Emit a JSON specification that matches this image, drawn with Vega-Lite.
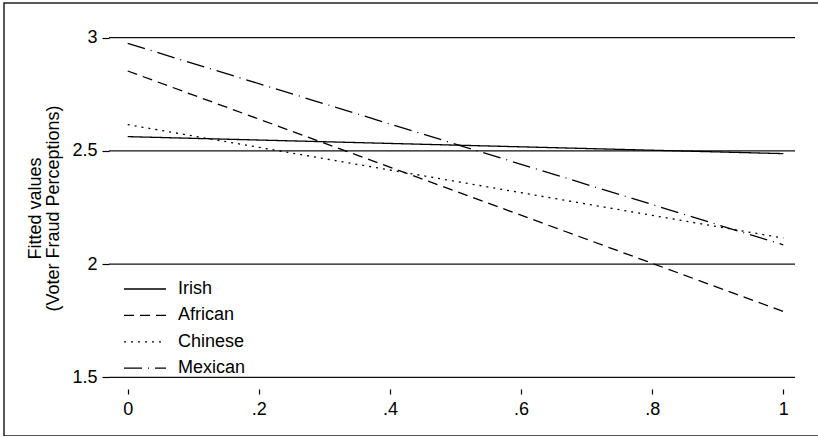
{
  "$schema": "https://vega.github.io/schema/vega-lite/v6.json",
  "width": 815,
  "height": 433,
  "autosize": {"type": "none"},
  "padding": {"left": 4, "top": 3, "right": 0, "bottom": 0},
  "background": "white",
  "config": {
    "font": "Liberation Sans",
    "view": {"stroke": "#222", "strokeWidth": 1.5},
    "axis": {"labelColor": "black", "titleColor": "black", "tickColor": "black", "grid": false, "domain": false}
  },
  "datasets": {
    "fits": [
      {"group": "Irish", "x": 0, "y": 2.563},
      {"group": "Irish", "x": 1, "y": 2.488},
      {"group": "African", "x": 0, "y": 2.853},
      {"group": "African", "x": 1, "y": 1.791},
      {"group": "Chinese", "x": 0, "y": 2.616},
      {"group": "Chinese", "x": 1, "y": 2.115},
      {"group": "Mexican", "x": 0, "y": 2.975},
      {"group": "Mexican", "x": 1, "y": 2.085}
    ],
    "grid": [{"g": 1.5}, {"g": 2}, {"g": 2.5}, {"g": 3}]
  },
  "layer": [
    {
      "data": {"name": "grid"},
      "mark": {"type": "rule", "stroke": "#111", "strokeWidth": 1.2},
      "encoding": {
        "y": {"field": "g", "type": "quantitative", "scale": {"domain": [1.2407, 3.1533], "nice": false, "zero": false},
          "axis": {"orient": "left", "offset": -105, "values": [1.5, 2, 2.5, 3], "format": "~g", "tickSize": 7, "tickWidth": 1.2, "labelFontSize": 18, "labelPadding": 5,
            "title": ["Fitted values", "(Voter Fraud Perceptions)"], "titleFontSize": 18, "titleFontWeight": "normal", "titleLineHeight": 18,
            "titleX": -74, "titleY": 205, "titleBaseline": "middle", "titleAngle": -90, "titleAlign": "center"}},
        "x": {"datum": -0.0285, "type": "quantitative", "scale": {"domain": [-0.18868, 1.05446], "nice": false, "zero": false},
          "axis": {"orient": "bottom", "offset": -47, "values": [0, 0.2, 0.4, 0.6, 0.8, 1], "tickSize": 5, "tickWidth": 1.2, "labelFontSize": 18, "labelPadding": 6,
            "labelExpr": "replace(format(datum.value, '~g'), '0.', '.')", "title": null}},
        "x2": {"datum": 1.0179}
      }
    },
    {
      "mark": {"type": "rule", "stroke": "black", "strokeWidth": 1.5},
      "encoding": {
        "x": {"datum": -0.0285, "type": "quantitative"},
        "y": {"datum": 1.4474, "type": "quantitative"},
        "y2": {"datum": 3.0561}
      }
    },
    {
      "mark": {"type": "rule", "stroke": "black", "strokeWidth": 1.5},
      "encoding": {
        "x": {"datum": -0.0285, "type": "quantitative"},
        "x2": {"datum": 1.0179},
        "y": {"datum": 1.4474, "type": "quantitative"}
      }
    },
    {
      "data": {"name": "fits"},
      "mark": {"type": "line", "stroke": "black", "strokeWidth": 1.3},
      "encoding": {
        "x": {"field": "x", "type": "quantitative"},
        "y": {"field": "y", "type": "quantitative"},
        "strokeDash": {"field": "group", "type": "nominal",
          "scale": {"domain": ["Irish", "African", "Chinese", "Mexican"], "range": [[1, 0], [10, 6], [2, 5], [18, 6, 1, 6]]},
          "legend": {"orient": "none", "legendX": 132, "legendY": 277, "title": null, "padding": 0,
            "symbolType": "M-3,0H3", "symbolSize": 196, "symbolStrokeWidth": 1.3, "symbolStrokeColor": "black",
            "labelFontSize": 18, "labelColor": "black", "labelOffset": 24, "rowPadding": 8.4}}
      }
    }
  ]
}
